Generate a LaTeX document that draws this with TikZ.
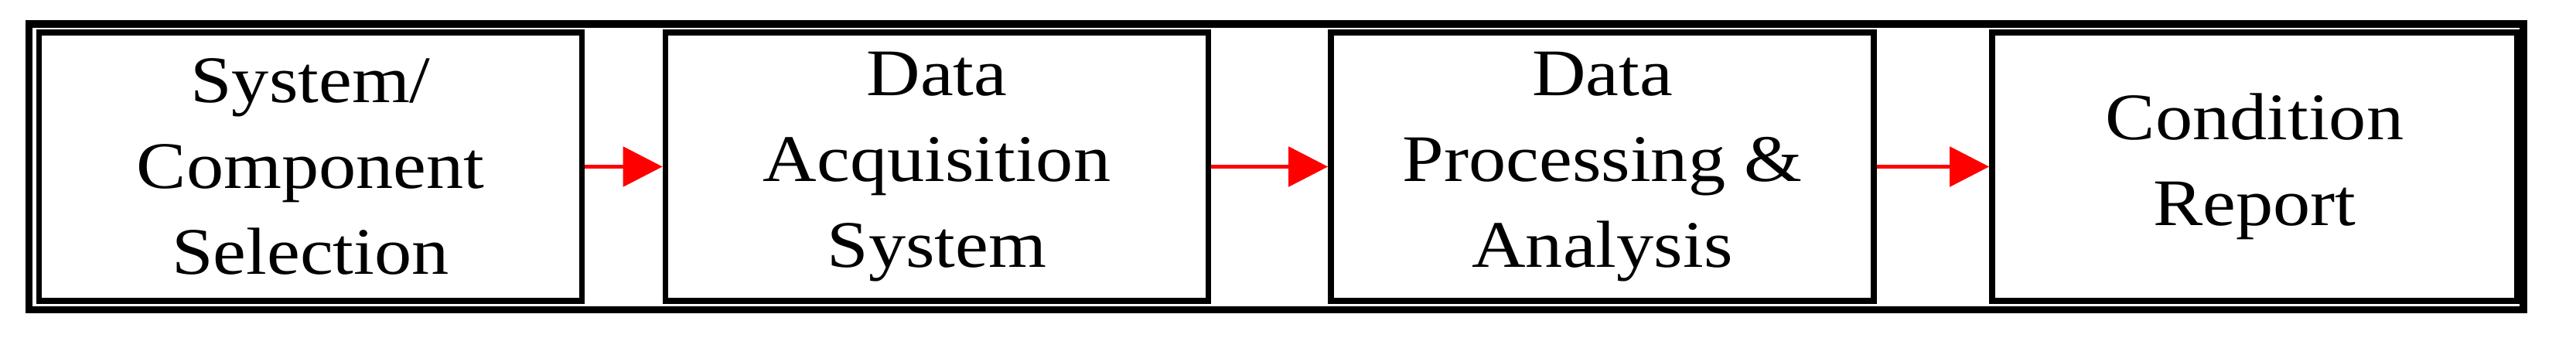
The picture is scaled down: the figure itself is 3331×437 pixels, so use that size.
\documentclass[tikz,border=0pt]{standalone}
\usepackage{fontspec}
\setmainfont[FakeStretch=1.12]{Liberation Serif}
\usetikzlibrary{arrows.meta}
\begin{document}
\begin{tikzpicture}[x=0.25pt,y=-0.25pt,
  stagebox/.style={draw=black, line width=1.9pt, fill=white, inner sep=0pt,
    minimum width=175.5pt, minimum height=86.75pt, align=center,
    font=\fontsize{21.5}{27.75}\selectfont},
  flowarrow/.style={draw=red, line width=1.4pt,
    -{Triangle[length=12.75pt,width=12.75pt]}},
  frameline/.style={draw=black, line width=2.3pt}]
\useasboundingbox (0,0) rectangle (3331,437);
\draw[frameline] (37.5,31) rectangle (3263,400.5);
\node[stagebox] (b1) at (401.5,215.5) {System/\\Component\\Selection};
\node[stagebox] (b2) at (1211.5,215.5) {Data\\Acquisition\\System};
\node[stagebox] (b3) at (2072,215.5) {Data\\Processing \&\\Analysis};
\node[stagebox, minimum width=169.75pt] (b4) at (2915.5,215.5) {Condition\\Report};
\draw[flowarrow] (b1.east) -- (b2.west);
\draw[flowarrow] (b2.east) -- (b3.west);
\draw[flowarrow] (b3.east) -- (b4.west);
\end{tikzpicture}
\end{document}
